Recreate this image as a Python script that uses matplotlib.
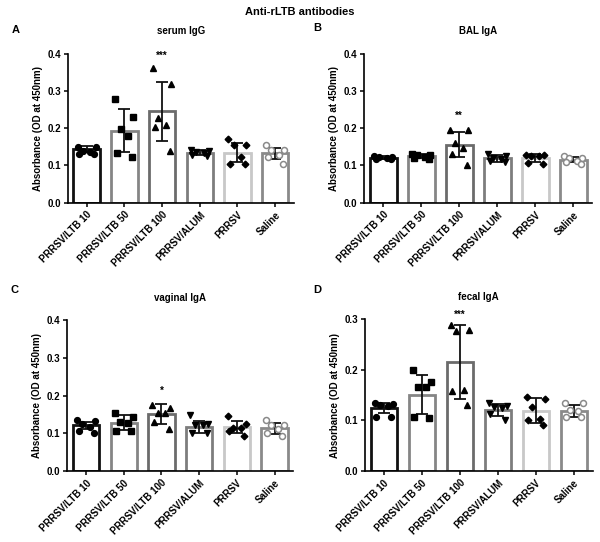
import numpy as np
import matplotlib
matplotlib.use("Agg")
import matplotlib.pyplot as plt

plt.rcParams['font.family'] = ['Liberation Sans', 'DejaVu Sans']
plt.rcParams['font.weight'] = 'bold'

groups = ['PRRSV/LTB 10', 'PRRSV/LTB 50', 'PRRSV/LTB 100', 'PRRSV/ALUM', 'PRRSV', 'Saline']

# panel A - serum IgG
serum_mean = [0.143, 0.193, 0.245, 0.134, 0.134, 0.133]
serum_sd = [0.008, 0.058, 0.080, 0.007, 0.026, 0.015]
serum_pts = [[0.150, 0.150, 0.140, 0.135, 0.130, 0.130],
             [0.279, 0.230, 0.199, 0.180, 0.133, 0.122],
             [0.361, 0.319, 0.227, 0.208, 0.204, 0.139],
             [0.142, 0.140, 0.135, 0.133, 0.128, 0.125],
             [0.170, 0.156, 0.155, 0.124, 0.104, 0.104],
             [0.155, 0.141, 0.141, 0.128, 0.122, 0.104]]

# panel B - BAL IgA
bal_mean = [0.121, 0.125, 0.156, 0.119, 0.119, 0.115]
bal_sd = [0.004, 0.005, 0.034, 0.010, 0.011, 0.007]
bal_pts = [[0.125, 0.124, 0.122, 0.120, 0.118, 0.117],
           [0.131, 0.129, 0.127, 0.124, 0.121, 0.118],
           [0.196, 0.196, 0.161, 0.147, 0.132, 0.101],
           [0.131, 0.126, 0.120, 0.116, 0.111, 0.110],
           [0.127, 0.127, 0.125, 0.125, 0.106, 0.103],
           [0.125, 0.121, 0.119, 0.112, 0.110, 0.105]]

# panel C - vaginal IgA
vag_mean = [0.121, 0.128, 0.152, 0.117, 0.117, 0.113]
vag_sd = [0.010, 0.020, 0.026, 0.016, 0.017, 0.014]
vag_pts = [[0.136, 0.134, 0.124, 0.118, 0.105, 0.100],
           [0.153, 0.144, 0.130, 0.127, 0.106, 0.106],
           [0.174, 0.168, 0.155, 0.153, 0.131, 0.111],
           [0.149, 0.124, 0.122, 0.122, 0.102, 0.100],
           [0.146, 0.124, 0.115, 0.115, 0.106, 0.093],
           [0.135, 0.122, 0.122, 0.112, 0.100, 0.094]]

# panel D - fecal IgA
fec_mean = [0.124, 0.151, 0.216, 0.121, 0.119, 0.118]
fec_sd = [0.010, 0.039, 0.073, 0.012, 0.025, 0.012]
fec_pts = [[0.135, 0.133, 0.130, 0.128, 0.107, 0.107],
           [0.199, 0.175, 0.166, 0.166, 0.107, 0.104],
           [0.289, 0.279, 0.277, 0.160, 0.158, 0.131],
           [0.135, 0.128, 0.127, 0.125, 0.112, 0.100],
           [0.147, 0.143, 0.127, 0.102, 0.100, 0.090],
           [0.134, 0.134, 0.121, 0.119, 0.106, 0.106]]

stars = ['***', '**', '*', '***']
star_y = [0.395, 0.232, 0.212, 0.308]
titles = ['serum IgG', 'BAL IgA', 'vaginal IgA', 'fecal IgA']
letters = ['A', 'B', 'C', 'D']
ymax = [0.4, 0.4, 0.4, 0.3]

edge_cols = ['#111111', '#858585', '#6b6b6b', '#7d7d7d', '#c8c8c8', '#8a8a8a']
markers = ['o', 's', '^', 'v', 'D', 'o']
msizes = [4.2, 4.0, 4.2, 4.2, 3.4, 4.3]
jit = [-0.24, 0.24, -0.1, 0.1, -0.2, 0.2]

fig = plt.figure(figsize=(6.0, 5.42), dpi=100)
boxes = [[0.113, 0.626, 0.377, 0.275],
         [0.607, 0.626, 0.380, 0.275],
         [0.112, 0.131, 0.377, 0.278],
         [0.608, 0.131, 0.380, 0.280]]

means = [serum_mean, bal_mean, vag_mean, fec_mean]
sds = [serum_sd, bal_sd, vag_sd, fec_sd]
pts = [serum_pts, bal_pts, vag_pts, fec_pts]

for k in range(4):
    ax = fig.add_axes(boxes[k])
    x = np.arange(len(groups))
    ax.bar(x, means[k], width=0.7, color='white', edgecolor=edge_cols, linewidth=2.0, zorder=2)
    for i in range(len(groups)):
        ax.errorbar(x[i], means[k][i], yerr=sds[k][i], color='#111111', elinewidth=1.3,
                    capsize=4.5, capthick=1.3, zorder=4)
        xs = x[i] + np.array(jit[:len(pts[k][i])])
        if i == 5:
            ax.plot(xs, pts[k][i], linestyle='none', marker='o', ms=msizes[i],
                    mfc='white', mec='#8a8a8a', mew=1.1, zorder=5)
        else:
            ax.plot(xs, pts[k][i], linestyle='none', marker=markers[i], ms=msizes[i],
                    color='black', zorder=5)
    ax.text(2, star_y[k], stars[k], ha='center', va='center', fontsize=7)
    ax.set_xlim(-0.5, 5.5)
    ax.set_ylim(0, ymax[k])
    ax.set_yticks(np.arange(0, ymax[k] + 0.001, 0.1))
    ax.set_yticklabels(['%.1f' % v for v in np.arange(0, ymax[k] + 0.001, 0.1)], fontsize=7, fontweight='bold')
    ax.set_xticks(x)
    ax.set_xticklabels(groups, rotation=45, ha='right', rotation_mode='anchor', fontsize=7, fontweight='bold')
    ax.spines['top'].set_visible(False)
    ax.spines['right'].set_visible(False)
    ax.spines['left'].set_linewidth(1.2)
    ax.spines['bottom'].set_linewidth(1.2)
    ax.tick_params(axis='both', length=3, width=1.1, pad=2)
    ax.set_ylabel('Absorbance (OD at 450nm)', fontsize=7, fontweight='bold', labelpad=3)
    ax.set_title(titles[k], fontsize=7, fontweight='bold', pad=14)

fig.text(0.5, 0.977, 'Anti-rLTB antibodies', ha='center', va='center', fontsize=8, fontweight='bold')
fig.text(0.02, 0.944, 'A', ha='left', va='center', fontsize=8, fontweight='bold')
fig.text(0.522, 0.948, 'B', ha='left', va='center', fontsize=8, fontweight='bold')
fig.text(0.017, 0.465, 'C', ha='left', va='center', fontsize=8, fontweight='bold')
fig.text(0.522, 0.465, 'D', ha='left', va='center', fontsize=8, fontweight='bold')

fig.savefig('out.png', dpi=100)
